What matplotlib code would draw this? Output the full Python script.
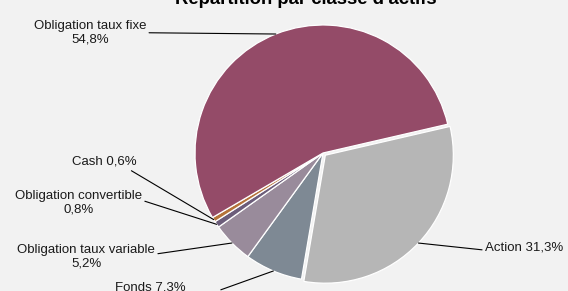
import numpy as np
import matplotlib
matplotlib.use("Agg")
import matplotlib.pyplot as plt

# ─── Data ───────────────────────────────────────────────────
labels = ["Action", "Fonds", "Obligation taux variable",
          "Obligation convertible", "Cash", "Obligation taux fixe"]
values = [31.3, 7.3, 5.2, 0.8, 0.6, 54.8]
label_texts = ["Action 31,3%", "Fonds 7,3%", "Obligation taux variable\n5,2%",
               "Obligation convertible\n0,8%", "Cash 0,6%",
               "Obligation taux fixe\n54,8%"]
colors = ["#b6b6b6", "#7e8994", "#998b9b", "#6c5d7a", "#b5733a", "#944b68"]
explode = [0.025, 0, 0, 0, 0, 0]

# label placement (data units, pie radius = 1) and leader attach point on text
label_pos = [(1.57, -0.74), (-1.35, -1.05), (-1.85, -0.81),
             (-1.91, -0.39), (-1.71, -0.07), (-1.82, 0.94)]
rel_pos = [(0.0, 0.3), (1.5, 0.3), (1.0, 0.6),
           (1.0, 0.6), (0.85, 0.0), (0.95, 0.5)]

BG = "#f2f2f2"
plt.rcParams["font.family"] = ["Liberation Sans", "DejaVu Sans"]

fig = plt.figure(figsize=(5.68, 2.91), dpi=100, facecolor=BG)
ax = fig.add_axes([0, 0, 1, 1])
ax.set_facecolor(BG)

wedges, _ = ax.pie(values, colors=colors, explode=explode, startangle=13,
                   counterclock=False, radius=1.0,
                   wedgeprops=dict(edgecolor="white", linewidth=0.9))

for w, txt, pos, rp in zip(wedges, label_texts, label_pos, rel_pos):
    mid = np.deg2rad((w.theta1 + w.theta2) / 2)
    cx, cy = w.center
    xy = (cx + w.r * np.cos(mid), cy + w.r * np.sin(mid))
    ax.annotate(txt, xy=xy, xytext=pos, ha="center", va="center",
                fontsize=9.5, color="#1a1a1a", linespacing=1.2,
                arrowprops=dict(arrowstyle="-", color="black", lw=0.8,
                                shrinkA=0, shrinkB=0, relpos=rp))

ax.set_xlim(-323 / 128, 245 / 128)
ax.set_ylim(-138 / 128, 153 / 128)
ax.set_aspect("auto")
ax.axis("off")

fig.text(0.539, 1 - 4 / 291, "Répartition par classe d'actifs",
         ha="center", va="baseline", fontsize=13.3, fontweight="bold")

fig.savefig("out.png", dpi=100, facecolor=BG)
